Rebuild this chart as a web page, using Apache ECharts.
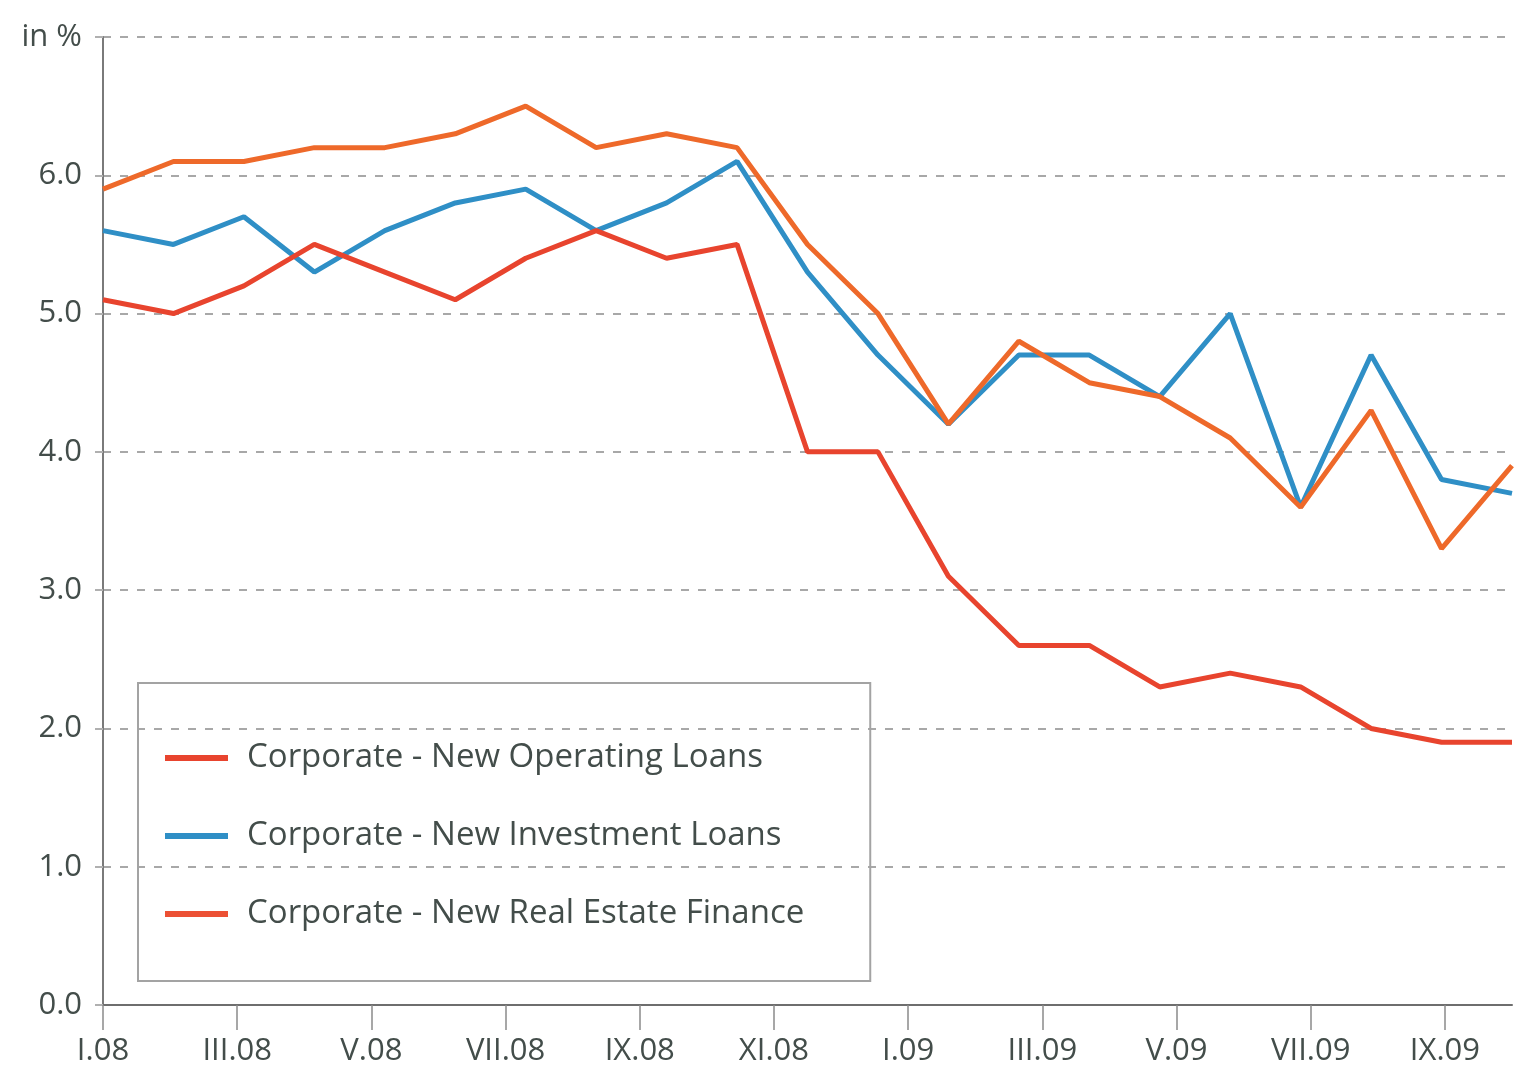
<!DOCTYPE html>
<html>
<head>
<meta charset="utf-8">
<script src="https://cdn.jsdelivr.net/npm/echarts@6/dist/echarts.min.js"></script>
<style>
html,body{margin:0;padding:0;background:#fff;}
#chart{width:1526px;height:1070px;}
</style>
</head>
<body>
<div id="chart"></div>
<script>
// Axis month labels (Jan 2008 – Oct 2009)
const axisMonths = ['I.08','II.08','III.08','IV.08','V.08','VI.08','VII.08','VIII.08','IX.08','X.08','XI.08','XII.08',
                    'I.09','II.09','III.09','IV.09','V.09','VI.09','VII.09','VIII.09','IX.09','X.09'];
// Data observation categories (21 points)
const dataMonths = ['I.08','II.08','III.08','IV.08','V.08','VI.08','VII.08','VIII.08','IX.08','X.08','XI.08','XII.08',
                    'I.09','II.09','III.09','IV.09','V.09','VI.09','VII.09','VIII.09','IX.09'];

const operatingLoans  = [5.1,5.0,5.2,5.5,5.3,5.1,5.4,5.6,5.4,5.5,4.0,4.0,3.1,2.6,2.6,2.3,2.4,2.3,2.0,1.9,1.9];
const investmentLoans = [5.6,5.5,5.7,5.3,5.6,5.8,5.9,5.6,5.8,6.1,5.3,4.7,4.2,4.7,4.7,4.4,5.0,3.6,4.7,3.8,3.7];
const realEstate      = [5.9,6.1,6.1,6.2,6.2,6.3,6.5,6.2,6.3,6.2,5.5,5.0,4.2,4.8,4.5,4.4,4.1,3.6,4.3,3.3,3.9];

const yTicks = [0,1,2,3,4,5,6,7];

const seriesNames = ['Corporate - New Operating Loans','Corporate - New Investment Loans','Corporate - New Real Estate Finance'];
const colors = ['#e8442e','#2f8fc6','#ee692a'];

const textColor = '#434d4a';
const font = 'Open Sans';

const chart = echarts.init(document.getElementById('chart'), null, {renderer:'canvas'});
chart.setOption({
  backgroundColor:'#ffffff',
  animation:false,
  grid:{left:103, right:14, top:37, bottom:65, containLabel:false},
  legend:{
    orient:'vertical',
    left:138, top:683,
    padding:[58,66,50,27],
    borderColor:'#a3a3a3', borderWidth:2,
    itemWidth:63, itemHeight:6, itemGap:44,
    icon:'rect',
    textStyle:{fontFamily:font, fontSize:33, color:textColor, lineHeight:34, padding:[0,0,0,14]},
    data:[
      {name:seriesNames[0], itemStyle:{color:'#e8442e'}},
      {name:seriesNames[1], itemStyle:{color:'#2f8fc6'}},
      {name:seriesNames[2], itemStyle:{color:'#ec5034'}}
    ]
  },
  xAxis:[
    {
      type:'category', data:axisMonths, boundaryGap:false, position:'bottom',
      axisLine:{show:true, lineStyle:{color:'#6e6e6e', width:2}},
      axisTick:{show:true, interval:1, length:25, lineStyle:{color:'#8a8a8a', width:1.5}},
      axisLabel:{show:true, interval:1, margin:31, fontFamily:font, fontSize:31, color:textColor},
      splitLine:{show:false}
    },
    {
      type:'category', data:dataMonths, boundaryGap:false, show:false
    }
  ],
  yAxis:{
    type:'value', min:0, max:7, interval:1,
    axisLine:{show:true, lineStyle:{color:'#7a7a7a', width:2}},
    axisTick:{show:true, length:8, lineStyle:{color:'#b0b0b0', width:2}},
    axisLabel:{
      margin:21, fontFamily:font, fontSize:31, color:textColor,
      formatter:function(v){ return v === yTicks[yTicks.length-1] ? 'in %' : v.toFixed(1); }
    },
    splitLine:{show:true, lineStyle:{color:'#a8a8a8', width:2, type:[8,9]}}
  },
  series:[
    {name:seriesNames[0], type:'line', xAxisIndex:1, data:operatingLoans, symbol:'none',
     lineStyle:{width:5, color:colors[0]}, itemStyle:{color:colors[0]}, z:3},
    {name:seriesNames[1], type:'line', xAxisIndex:1, data:investmentLoans, symbol:'none',
     lineStyle:{width:5, color:colors[1]}, itemStyle:{color:colors[1]}, z:2},
    {name:seriesNames[2], type:'line', xAxisIndex:1, data:realEstate, symbol:'none',
     lineStyle:{width:5, color:colors[2]}, itemStyle:{color:colors[2]}, z:4}
  ]
});
</script>
</body>
</html>
